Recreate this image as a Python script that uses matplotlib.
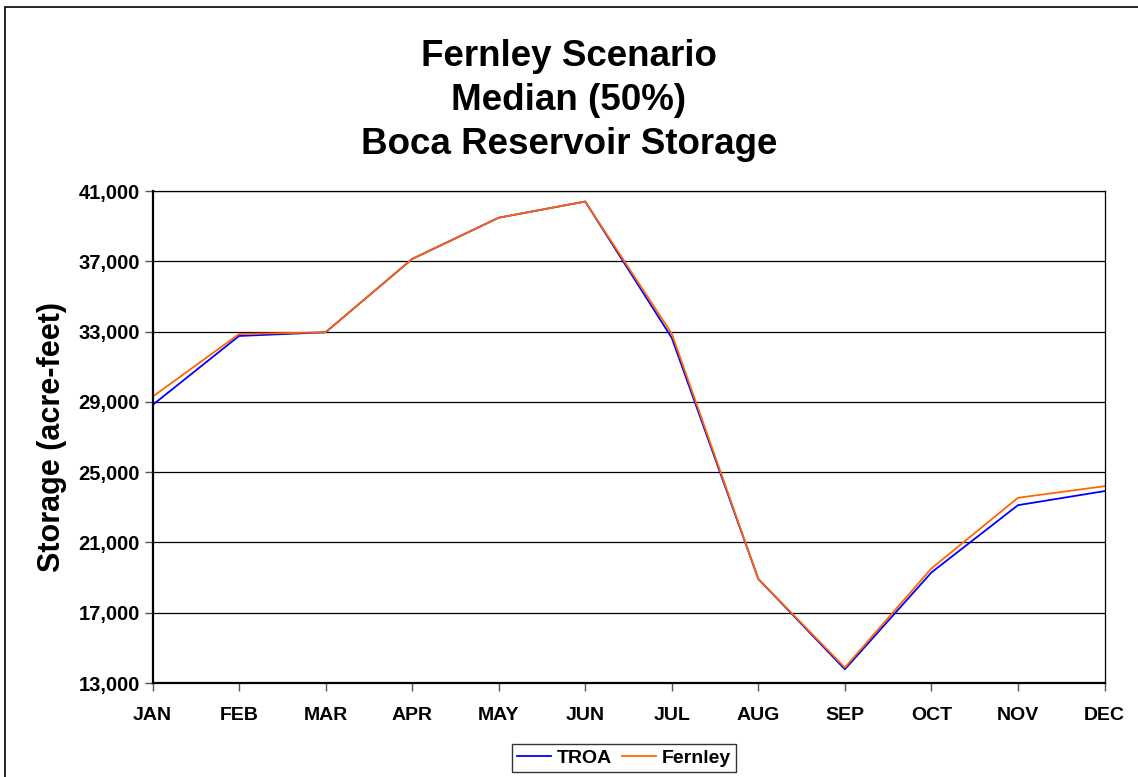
import matplotlib.pyplot as plt
from matplotlib.patches import Rectangle
from matplotlib.ticker import FuncFormatter

# Monthly end-of-month storage, acre-feet
months = ["JAN", "FEB", "MAR", "APR", "MAY", "JUN",
          "JUL", "AUG", "SEP", "OCT", "NOV", "DEC"]
troa = [28820, 32750, 32960, 37130, 39480, 40400,
        32640, 18920, 13780, 19290, 23120, 23920]
fernley = [29290, 32860, 32960, 37130, 39480, 40400,
           32880, 18920, 13880, 19520, 23540, 24200]

y_ticks = [13000, 17000, 21000, 25000, 29000, 33000, 37000, 41000]

plt.rcParams["font.family"] = ["Liberation Sans", "DejaVu Sans"]
plt.rcParams["font.weight"] = "bold"

W, H = 1138, 777
fig = plt.figure(figsize=(W / 100, H / 100), dpi=100)

# chart area border (runs off the right and bottom edges)
fig.patches.append(Rectangle((5 / W, -0.05), 1.2, 1 - 7 / H + 0.05,
                             transform=fig.transFigure, fill=False,
                             edgecolor="black", linewidth=1.2))

left, right = 152.5 / W, 1104.5 / W
top, bottom = 1 - 191 / H, 1 - 683 / H
ax = fig.add_axes([left, bottom, right - left, top - bottom])

x = range(len(months))
ax.plot(x, troa, color="#0000FF", linewidth=1.3, label="TROA")
ax.plot(x, fernley, color="#FF6600", linewidth=1.3, label="Fernley")

ax.set_xlim(0, len(months) - 1)
ax.set_ylim(13000, 41000)
ax.set_yticks(y_ticks)
ax.yaxis.set_major_formatter(FuncFormatter(lambda v, p: f"{int(v):,}"))
ax.set_xticks(list(x))
ax.set_xticklabels(months)
ax.grid(axis="y", color="black", linewidth=0.9)
ax.set_axisbelow(True)

for s in ["left", "bottom"]:
    ax.spines[s].set_linewidth(1.6)
for s in ["top", "right"]:
    ax.spines[s].set_linewidth(0.9)

ax.tick_params(axis="y", direction="out", length=6, width=1, color="#555555",
               labelsize=14.5, pad=3)
ax.tick_params(axis="x", direction="out", length=6, width=1, color="#555555",
               labelsize=14, pad=11)
for lbl in ax.get_xticklabels() + ax.get_yticklabels():
    lbl.set_fontweight("bold")

ax.set_ylabel("Storage (acre-feet)", fontsize=22, fontweight="bold",
              labelpad=8)

for text, ypix in [("Fernley Scenario", 56), ("Median (50%)", 101),
                   ("Boca Reservoir Storage", 144)]:
    fig.text(0.5, 1 - ypix / H, text, ha="center", va="center",
             fontsize=26.5, fontweight="bold")

leg = fig.legend(loc="center", bbox_to_anchor=(624 / W, 1 - 758 / H),
                 ncol=2, frameon=True, fancybox=False,
                 borderpad=0.25, handlelength=1.75, handletextpad=0.3,
                 columnspacing=0.5, prop={"weight": "bold", "size": 14})
leg.get_frame().set_edgecolor("black")
leg.get_frame().set_linewidth(1.0)

fig.savefig("out.png", dpi=100)
